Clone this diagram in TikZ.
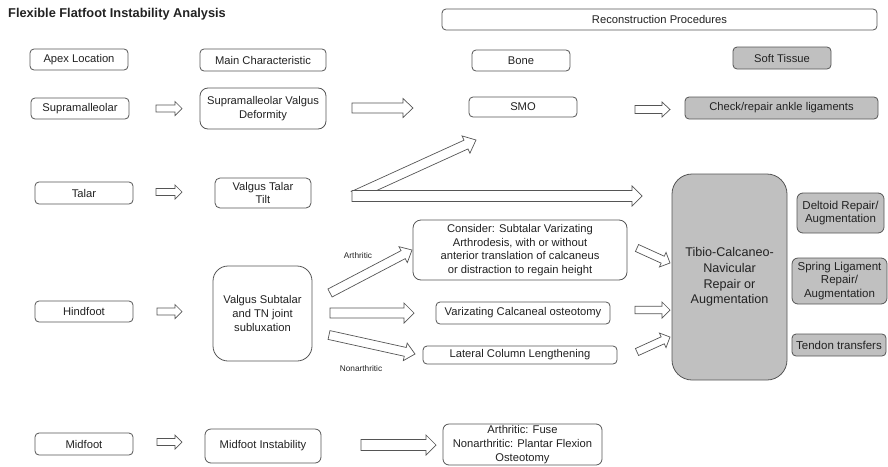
\documentclass[tikz,border=0pt]{standalone}
\usepackage{fontspec}
\setmainfont{Liberation Sans}
\usetikzlibrary{calc}
\definecolor{edgec}{HTML}{555555}
\definecolor{txtc}{HTML}{222222}
\definecolor{gfill}{HTML}{C0C0C0}
\newcommand\fsn{\fontsize{11.2}{13.8}\selectfont}
\newcommand\fsr{\fontsize{11.5}{13.8}\selectfont}
\tikzset{
  box/.style={draw=edgec, line width=0.8pt, rounded corners=4pt, text=txtc, font=\fsn, align=center, inner sep=0pt, fill=white},
  gbox/.style={box, fill=gfill},
  barrow/.style={draw=edgec, fill=white, line width=0.7pt, line join=miter},
  lbl/.style={text=txtc, font=\fontsize{8.3}{10}\selectfont, inner sep=0pt}
}
\newcommand\bx[7][]{%
  \pgfmathsetmacro\cx{(#3+#5)/2}\pgfmathsetmacro\cy{(#4+#6)/2}%
  \pgfmathsetmacro\ww{#5-#3}\pgfmathsetmacro\hh{#6-#4}%
  \node[box,#1,minimum width=\ww pt,minimum height=\hh pt] (#2) at (\cx,\cy) {#7};}
% start coord, end coord, half shaft, half head, head length
\newcommand\blockarrow[5]{%
  \coordinate (ba-h) at ($(#2)!#5pt!(#1)$);
  \filldraw[barrow] ($(#1)!#3pt!90:(#2)$) -- ($(ba-h)!#3pt!90:(#2)$) -- ($(ba-h)!#4pt!90:(#2)$)
    -- (#2) -- ($(ba-h)!#4pt!-90:(#2)$) -- ($(ba-h)!#3pt!-90:(#2)$) -- ($(#1)!#3pt!-90:(#2)$) -- cycle;}
\begin{document}
\begin{tikzpicture}[x=1pt,y=-1pt]
\useasboundingbox (0,0) rectangle (888,466);
\node[anchor=west, font=\bfseries\fontsize{12.8}{15}\selectfont, text=txtc, inner sep=0pt] (title) at (8,14) {Flexible Flatfoot Instability Analysis};

\bx{recon}{442}{9}{877}{30}{Reconstruction Procedures}
\bx{apex}{30}{49}{128}{70}{Apex Location}
\bx{mainc}{200}{49}{326}{71}{Main Characteristic}
\bx{bone}{472}{50}{570}{71}{Bone}
\bx[gbox]{soft}{733}{47}{831}{69}{Soft Tissue}

\bx{supra}{31}{98}{129}{119}{Supramalleolar}
\bx[rounded corners=8pt]{supraval}{200}{88}{326}{129}{Supramalleolar Valgus\\Deformity}
\bx{smo}{469}{97}{577}{117}{SMO}
\bx[gbox]{check}{685}{97}{878}{119}{Check/repair ankle ligaments}

\bx{talar}{35}{182}{133}{204}{Talar}
\bx[rounded corners=5pt]{vtt}{215}{178}{311}{208}{Valgus Talar\\Tilt}

\bx{hind}{35}{301}{133}{322}{Hindfoot}
\bx[rounded corners=15pt]{vst}{213}{266}{312}{361}{Valgus Subtalar\\and TN joint\\subluxation}
\bx[rounded corners=8pt]{consider}{413}{220}{627}{280}{Consider: Subtalar Varizating\\Arthrodesis, with or without\\anterior translation of calcaneus\\or distraction to regain height}
\bx{varcal}{436}{302}{610}{324}{Varizating Calcaneal osteotomy}
\bx{lcl}{423}{346}{617}{364}{Lateral Column Lengthening}

\bx[gbox,rounded corners=20pt,font=\fontsize{12.6}{15.6}\selectfont]{tcn}{672}{174}{787}{380}{Tibio-Calcaneo-\\Navicular\\Repair or\\Augmentation}
\bx[gbox,rounded corners=6pt,font=\fsr]{deltoid}{797}{193}{884}{233}{Deltoid Repair/\\Augmentation}
\bx[gbox,rounded corners=6pt,font=\fsr]{spring}{792}{258}{887}{304}{Spring Ligament\\Repair/\\Augmentation}
\bx[gbox,font=\fsr]{tendon}{792}{334}{886}{356}{Tendon transfers}

\bx{mid}{35}{433}{133}{455}{Midfoot}
\bx[rounded corners=6pt]{midinst}{205}{429}{321}{463}{Midfoot Instability}
\bx[rounded corners=6pt]{fuse}{443}{424}{602}{465}{Arthritic: Fuse\\Nonarthritic: Plantar Flexion\\Osteotomy}

\node[lbl] (arth) at (358,256) {Arthritic};
\node[lbl] (nonarth) at (361,369) {Nonarthritic};

% arrow end points
\coordinate (s1a) at (156,108.5); \coordinate (s1b) at (182,108.5);
\coordinate (s2a) at (156,192); \coordinate (s2b) at (182,192);
\coordinate (s3a) at (157,311.5); \coordinate (s3b) at (182,311.5);
\coordinate (s4a) at (157,442); \coordinate (s4b) at (182,442);
\coordinate (b1a) at (352,108); \coordinate (b1b) at (413,108);
\coordinate (c1a) at (635,109.5); \coordinate (c1b) at (670,109.5);
\coordinate (t1a) at (352,196); \coordinate (t1b) at (642,196);
\coordinate (d1a) at (353,196); \coordinate (d1b) at (476,140);
\coordinate (h1a) at (330,293); \coordinate (h1b) at (412,250);
\coordinate (h2a) at (330,313); \coordinate (h2b) at (414,313);
\coordinate (h3a) at (329,335); \coordinate (h3b) at (415,354);
\coordinate (r1a) at (637,248); \coordinate (r1b) at (670,263);
\coordinate (r2a) at (635,310); \coordinate (r2b) at (670,310);
\coordinate (r3a) at (637,352); \coordinate (r3b) at (670,337);
\coordinate (m1a) at (361,445); \coordinate (m1b) at (436,445);

\blockarrow{s1a}{s1b}{3.5}{7}{7}
\blockarrow{s2a}{s2b}{3.5}{7}{7}
\blockarrow{s3a}{s3b}{3.5}{7}{7}
\blockarrow{s4a}{s4b}{3.5}{7}{7}
\blockarrow{b1a}{b1b}{5}{9.5}{10}
\blockarrow{c1a}{c1b}{4}{7.5}{8}
\begin{scope}
  \clip (340,191) rectangle (700,100);
  \blockarrow{d1a}{d1b}{4.8}{9.5}{11}
\end{scope}
\blockarrow{t1a}{t1b}{5.5}{10}{10}
\blockarrow{h1a}{h1b}{4.5}{9}{10}
\blockarrow{h2a}{h2b}{5}{10}{10}
\blockarrow{h3a}{h3b}{4.5}{9}{10}
\blockarrow{r1a}{r1b}{3.8}{8}{8}
\blockarrow{r2a}{r2b}{3.8}{8}{8}
\blockarrow{r3a}{r3b}{3.8}{8}{8}
\blockarrow{m1a}{m1b}{5.5}{10}{10}
\end{tikzpicture}
\end{document}
